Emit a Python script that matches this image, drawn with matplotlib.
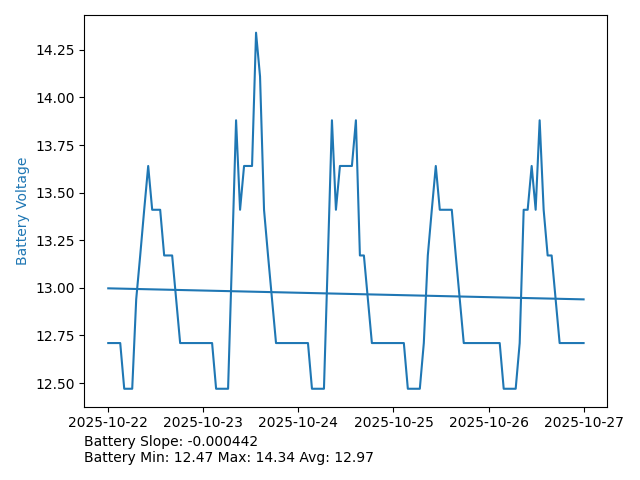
import matplotlib
matplotlib.use("Agg")
import matplotlib.pyplot as plt
import numpy as np
import pandas as pd

# hourly battery readings, 2025-10-22 .. 2025-10-27
voltage = [
    12.71, 12.71, 12.71, 12.71, 12.47, 12.47, 12.47, 12.94, 13.17, 13.41,
    13.64, 13.41, 13.41, 13.41, 13.17, 13.17, 13.17, 12.94, 12.71, 12.71,
    12.71, 12.71, 12.71, 12.71, 12.71, 12.71, 12.71, 12.47, 12.47, 12.47,
    12.47, 13.17, 13.88, 13.41, 13.64, 13.64, 13.64, 14.34, 14.11, 13.41,
    13.17, 12.94, 12.71, 12.71, 12.71, 12.71, 12.71, 12.71, 12.71, 12.71,
    12.71, 12.47, 12.47, 12.47, 12.47, 13.17, 13.88, 13.41, 13.64, 13.64,
    13.64, 13.64, 13.88, 13.17, 13.17, 12.94, 12.71, 12.71, 12.71, 12.71,
    12.71, 12.71, 12.71, 12.71, 12.71, 12.47, 12.47, 12.47, 12.47, 12.71,
    13.17, 13.41, 13.64, 13.41, 13.41, 13.41, 13.41, 13.17, 12.94, 12.71,
    12.71, 12.71, 12.71, 12.71, 12.71, 12.71, 12.71, 12.71, 12.71, 12.47,
    12.47, 12.47, 12.47, 12.71, 13.41, 13.41, 13.64, 13.41, 13.88, 13.41,
    13.17, 13.17, 12.94, 12.71, 12.71, 12.71, 12.71, 12.71, 12.71, 12.71,
]
times = pd.date_range("2025-10-22 00:00", "2025-10-27 00:00", periods=len(voltage))

slope_text = "Battery Slope: -0.000442"
stats_text = "Battery Min: 12.47 Max: 14.34 Avg: 12.97"

v = np.array(voltage)
idx = np.arange(len(v))
m, b = np.polyfit(idx, v, 1)
trend = m * idx + b

fig, ax = plt.subplots(figsize=(6.4, 4.8), dpi=100)
fig.subplots_adjust(left=0.132, right=0.949, top=0.969, bottom=0.153)

ax.plot(times, v, color="tab:blue")
ax.plot(times, trend, color="tab:blue")
ax.set_ylabel("Battery Voltage", color="tab:blue")

fig.text(0.132, 0.094, slope_text + "\n" + stats_text, ha="left", va="top")

fig.savefig("out.png")
